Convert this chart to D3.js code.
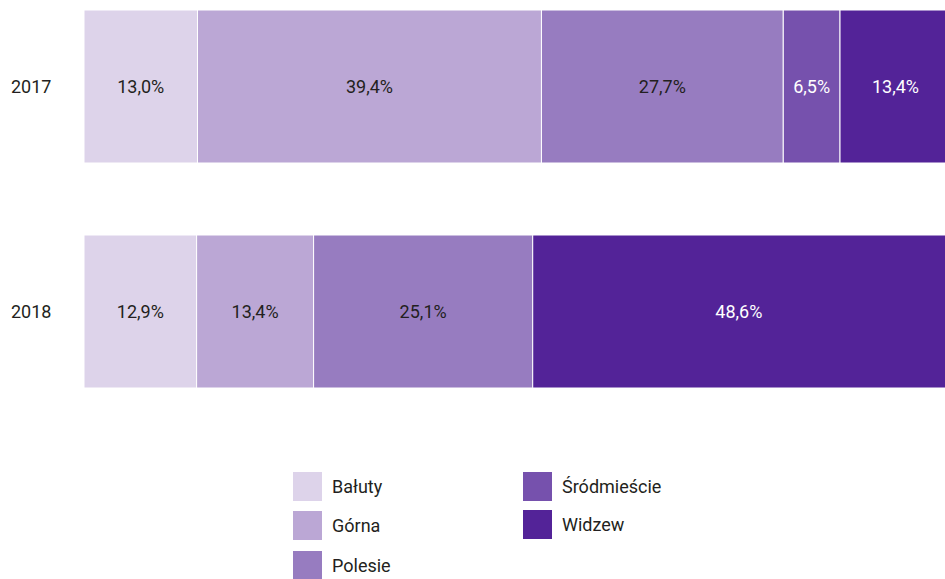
<!DOCTYPE html>
<html><head><meta charset="utf-8">
<script src="https://cdn.jsdelivr.net/npm/d3@7"></script>
<style>html,body{margin:0;padding:0;background:#fff;overflow:hidden}</style>
</head><body><svg id="c" width="945" height="579"></svg>
<script>
const years = ["2017", "2018"];
const districts = ["Bałuty", "Górna", "Polesie", "Śródmieście", "Widzew"];
const colors = ["#ddd3ea", "#bba7d5", "#977cc0", "#7651ad", "#532398"];
const values2017 = [13.0, 39.4, 27.7, 6.5, 13.4];
const values2018 = [12.9, 13.4, 25.1, 0, 48.6];
const labelColors = ["#231f20", "#231f20", "#231f20", "#ffffff", "#ffffff"];

const svg = d3.select("#c");
const font = "Roboto, 'Noto Sans', sans-serif";
const x = d3.scaleLinear().domain([0, 100]).range([84, 957]);
const y = d3.scaleBand().domain(years).range([10, 388]).paddingInner(0.32).paddingOuter(0);

const rows = years.map((yr, i) => ({year: yr, values: i === 0 ? values2017 : values2018}));
const stack = d3.stack().keys(d3.range(districts.length)).value((d, k) => d.values[k]);
const series = stack(rows);

series.forEach((s, k) => {
  s.forEach(seg => {
    const yr = seg.data.year;
    const v = seg.data.values[k];
    if (!v) return;
    svg.append("rect")
      .attr("x", x(seg[0])).attr("y", y(yr))
      .attr("width", x(seg[1]) - x(seg[0])).attr("height", y.bandwidth())
      .attr("fill", colors[k]).attr("stroke", "#fff").attr("stroke-width", 1);
    svg.append("text")
      .attr("x", (x(seg[0]) + Math.min(x(seg[1]), 945)) / 2 + (k === 4 && yr === "2017" ? 3 : 0))
      .attr("y", y(yr) + y.bandwidth() / 2)
      .attr("dy", "0.35em").attr("text-anchor", "middle")
      .attr("font-family", font).attr("font-size", 18)
      .attr("fill", labelColors[k])
      .text(v.toFixed(1).replace(".", ",") + "%");
  });
});

years.forEach(yr => {
  svg.append("text").attr("x", 11).attr("y", y(yr) + y.bandwidth() / 2)
    .attr("dy", "0.35em").attr("font-family", font).attr("font-size", 18)
    .attr("fill", "#231f20").text(yr);
});

const legendPos = [[293, 472], [293, 511], [293, 551], [523, 472], [523, 510]];
districts.forEach((d, k) => {
  const [lx, ly] = legendPos[k];
  svg.append("rect").attr("x", lx).attr("y", ly).attr("width", 29).attr("height", 29).attr("fill", colors[k]);
  svg.append("text").attr("x", lx + 39).attr("y", ly + 14.5).attr("dy", "0.35em")
    .attr("font-family", font).attr("font-size", 18).attr("fill", "#231f20").text(d);
});
</script></body></html>
